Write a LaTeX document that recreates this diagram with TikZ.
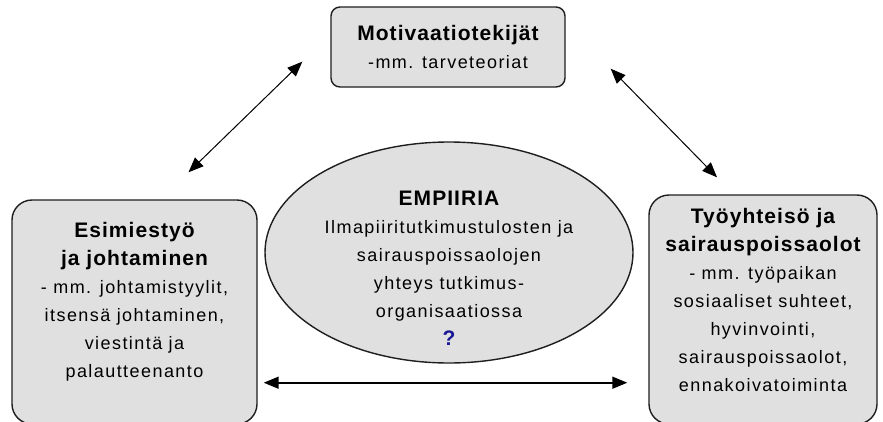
\documentclass[tikz,border=0pt]{standalone}
\usepackage{fontspec}
\setmainfont[LetterSpace=8,BoldFeatures={LetterSpace=5}]{Liberation Sans}
\usetikzlibrary{arrows.meta,shapes.geometric}
\definecolor{boxfill}{RGB}{224,224,224}
\definecolor{boxline}{RGB}{30,30,30}
\definecolor{qblue}{RGB}{25,25,150}
\newcommand\factorhead{\fontsize{21}{28}\selectfont\bfseries}
\tikzset{
    factor/.style={draw=boxline, line width=1.4pt, fill=boxfill, align=center, inner sep=0pt},
    both/.style={{Triangle[length=15pt,width=12pt]}-{Triangle[length=15pt,width=12pt]}, line width=1pt},
}
\begin{document}
\begin{tikzpicture}[x=1pt, y=-1pt, font=\fontsize{18}{28}\selectfont]
    \useasboundingbox (0,0) rectangle (883,421);

    \node [factor, rounded corners=9pt, minimum width=234pt, minimum height=80pt] (motiv) at (448,47)
        {{\factorhead Motivaatiotekijät}\\-mm. tarveteoriat};
    \node [factor, rounded corners=20pt, minimum width=245pt, minimum height=224pt, text depth=25pt] (lead) at (134.5,312)
        {{\factorhead Esimiestyö}\\{\factorhead ja johtaminen}\\- mm. johtamistyylit,\\itsensä johtaminen,\\viestintä ja\\palautteenanto};
    \node [factor, rounded corners=20pt, minimum width=228pt, minimum height=229pt, text depth=20pt] (team) at (763,309.5)
        {{\factorhead Työyhteisö ja}\\{\factorhead sairauspoissaolot}\\- mm. työpaikan\\sosiaaliset suhteet,\\hyvinvointi,\\sairauspoissaolot,\\ennakoivatoiminta};
    \node [factor, ellipse, minimum width=368pt, minimum height=221pt, inner ysep=-40pt, text height=185pt, text depth=0pt] (empiria) at (449,252.5)
        {{\factorhead EMPIIRIA}\\Ilmapiiritutkimustulosten ja\\sairauspoissaolojen\\yhteys tutkimus-\\organisaatiossa\\{\factorhead\color{qblue}?}};

    \draw [both] ([shift={(54,-27)}]lead.north) -- ([shift={(-28,-26)}]motiv.south west);
    \draw [both] ([shift={(45,-19)}]motiv.south east) -- ([shift={(-46,-17)}]team.north);
    \draw [both, line width=1.6pt] ([shift={(6,-42)}]lead.south east) -- ([shift={(-21,-42)}]team.south west);
\end{tikzpicture}
\end{document}
